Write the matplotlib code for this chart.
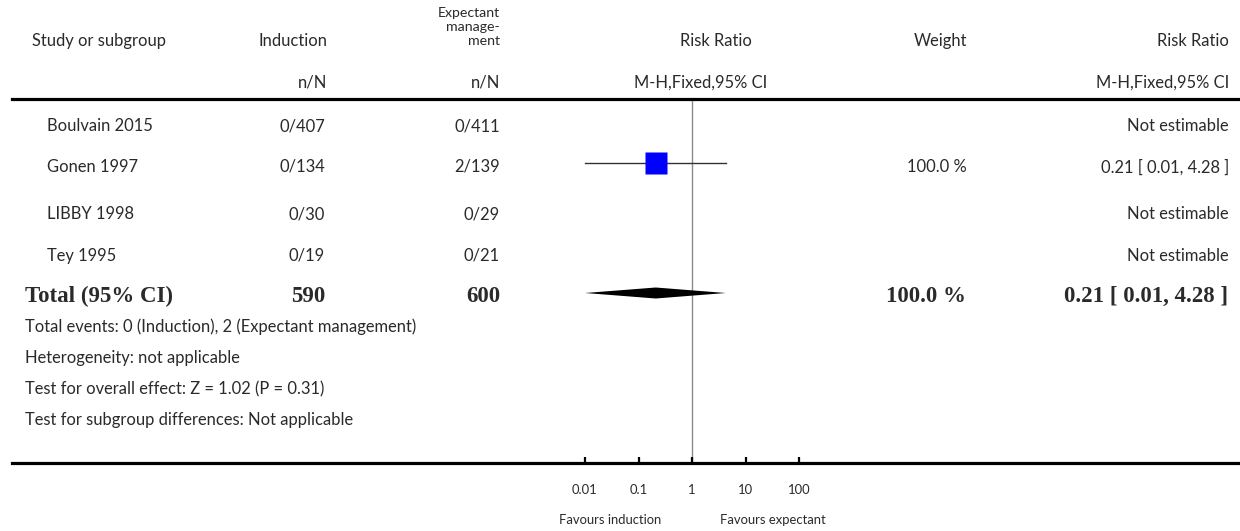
import matplotlib.pyplot as plt
from matplotlib.lines import Line2D
from matplotlib.patches import Polygon

# figure size in pixels
W, H = 1240, 531

# --- data ---
studies = ["Boulvain 2015", "Gonen 1997", "LIBBY 1998", "Tey 1995"]
ind_events = [0, 0, 0, 0]
ind_total = [407, 134, 30, 19]
exp_events = [0, 2, 0, 0]
exp_total = [411, 139, 29, 21]
rr = [None, 0.21, None, None]
rr_low = [None, 0.01, None, None]
rr_high = [None, 4.28, None, None]
weights = [None, 100.0, None, None]

total_ind = 590
total_exp = 600
total_rr = 0.21
total_low = 0.01
total_high = 4.28
total_weight = 100.0

footer = [
    "Total events: 0 (Induction), 2 (Expectant management)",
    "Heterogeneity: not applicable",
    "Test for overall effect: Z = 1.02 (P = 0.31)",
    "Test for subgroup differences: Not applicable",
]

xticks = [0.01, 0.1, 1, 10, 100]
xtick_labels = ["0.01", "0.1", "1", "10", "100"]

# --- layout (pixel rows) ---
row_y = [126, 167, 214, 256]
total_y = 296
footer_y = [327, 358, 389, 420]
mark_shift = -4

SANS = ["Lato", "DejaVu Sans"]
SERIF = ["Liberation Serif", "DejaVu Serif"]
TXT = "#2a2a2a"
FS = 11.9
FS_HEAD = 10.2
FS_SMALL = 9.4
FS_BOLD = 16.5

fig = plt.figure(figsize=(W / 100, H / 100), dpi=100)


def px(x, y):
    return x / W, 1 - y / H


def txt(x, y, s, ha="left", va="center", size=FS, family=SANS, weight="normal"):
    fx, fy = px(x, y)
    fig.text(fx, fy, s, ha=ha, va=va, fontsize=size, family=family,
             weight=weight, color=TXT)


def hline(y, x0, x1, lw):
    (a, b), (c, d) = px(x0, y), px(x1, y)
    fig.add_artist(Line2D([a, c], [b, d], color="black", lw=lw,
                          transform=fig.transFigure))


# header
txt(32, 46, "Study or subgroup", va="baseline")
txt(327, 46, "Induction", ha="right", va="baseline")
txt(500, 17, "Expectant", ha="right", va="baseline", size=FS_HEAD)
txt(500, 31, "manage-", ha="right", va="baseline", size=FS_HEAD)
txt(500, 45, "ment", ha="right", va="baseline", size=FS_HEAD)
txt(716, 46, "Risk Ratio", ha="center", va="baseline")
txt(967, 46, "Weight", ha="right", va="baseline")
txt(1229, 46, "Risk Ratio", ha="right", va="baseline")
txt(327, 88, "n/N", ha="right", va="baseline")
txt(500, 88, "n/N", ha="right", va="baseline")
txt(701, 88, "M-H,Fixed,95% CI", ha="center", va="baseline")
txt(1229, 88, "M-H,Fixed,95% CI", ha="right", va="baseline")

hline(99, 12, 1240, 2.3)
hline(463, 12, 1240, 2.3)

# study rows
for i, name in enumerate(studies):
    y = row_y[i]
    txt(47, y, name)
    txt(325, y, f"{ind_events[i]}/{ind_total[i]}", ha="right")
    txt(500, y, f"{exp_events[i]}/{exp_total[i]}", ha="right")
    if rr[i] is None:
        txt(1229, y, "Not estimable", ha="right")
    else:
        txt(967, y, f"{weights[i]:.1f} %", ha="right")
        txt(1229, y, f"{rr[i]:.2f} [ {rr_low[i]:.2f}, {rr_high[i]:.2f} ]", ha="right")

# total row
bold = dict(size=FS_BOLD, family=SERIF, weight="bold")
txt(25, total_y, "Total (95% CI)", **bold)
txt(325, total_y, str(total_ind), ha="right", **bold)
txt(500, total_y, str(total_exp), ha="right", **bold)
txt(966, total_y, f"{total_weight:.1f} %", ha="right", **bold)
txt(1228, total_y, f"{total_rr:.2f} [ {total_low:.2f}, {total_high:.2f} ]", ha="right", **bold)

for s, y in zip(footer, footer_y):
    txt(25, y, s)

# forest plot axes
x0, x1, y0, y1 = 585, 799, 99, 463
ax = fig.add_axes([x0 / W, 1 - y1 / H, (x1 - x0) / W, (y1 - y0) / H])
ax.set_xscale("log")
ax.set_xlim(0.01, 100)
ax.set_ylim(y1, y0)
ax.patch.set_alpha(0)
for sp in ax.spines.values():
    sp.set_visible(False)
ax.set_yticks([])
ax.set_xticks(xticks)
ax.set_xticklabels(xtick_labels, family=SANS, fontsize=FS_SMALL, color=TXT)
ax.minorticks_off()
ax.tick_params(axis="x", direction="in", length=4, width=1.6, pad=15, colors="black")
for lab in ax.get_xticklabels():
    lab.set_color(TXT)

ax.axvline(1, color="#8a8a8a", lw=1.0, zorder=1)

for i in range(len(studies)):
    if rr[i] is None:
        continue
    y = row_y[i] + mark_shift
    ax.plot([rr_low[i], rr_high[i]], [y, y], color="#333333", lw=1.0, zorder=2, clip_on=False)
    ax.plot([rr[i]], [y], marker="s", markersize=15.8, color="#0000ff", mec="none",
            zorder=3, clip_on=False)

dy = 5.5
ty = total_y - 3
ax.add_patch(Polygon([(total_low, ty), (total_rr, ty - dy), (total_high, ty), (total_rr, ty + dy)],
                     closed=True, facecolor="black", edgecolor="none", zorder=3, clip_on=False))

for s, xc in [("Favours induction", 610), ("Favours expectant", 773)]:
    txt(xc, 520, s, ha="center", size=FS_SMALL)

fig.savefig("out.png", dpi=100)
